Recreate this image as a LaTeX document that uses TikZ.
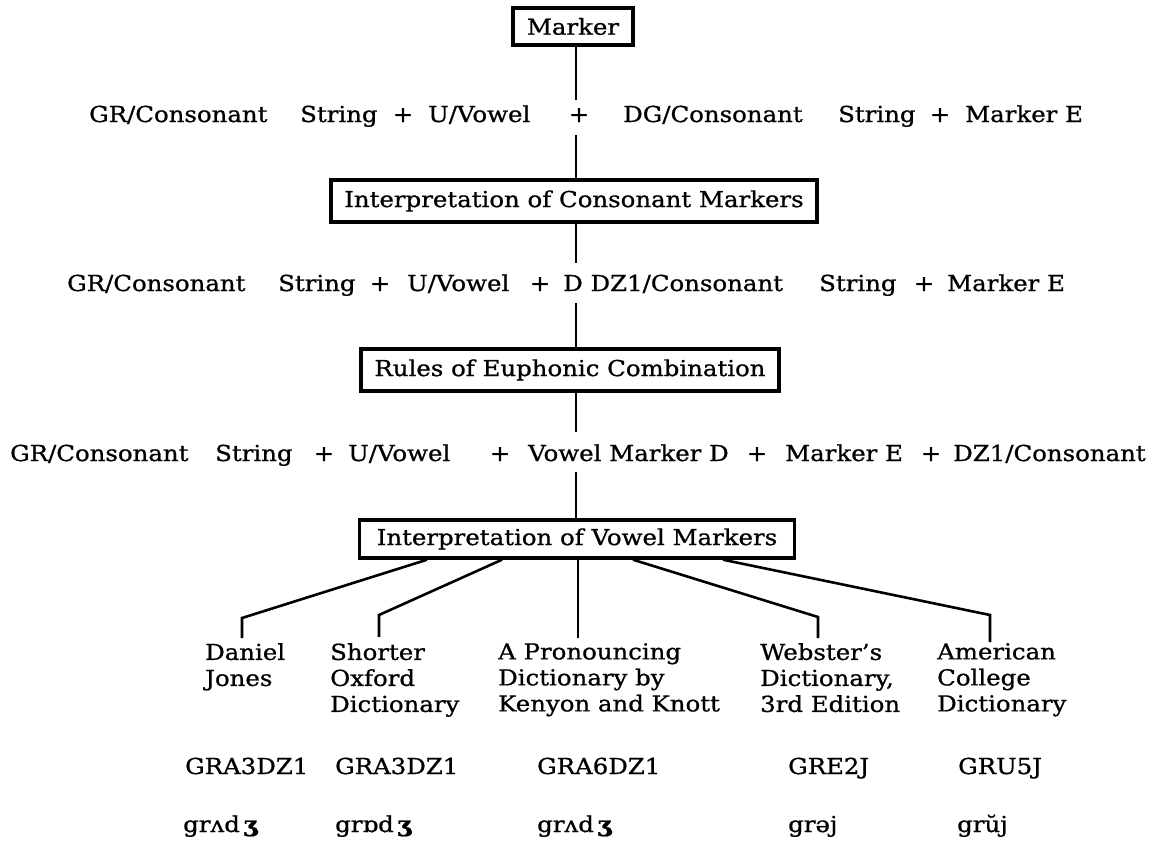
\documentclass[tikz,border=0pt]{standalone}
\usepackage{fontspec}
\setmainfont{DejaVu Serif}[FakeStretch=1.11, FakeBold=0.9]
\begin{document}
\begin{tikzpicture}[x=1pt,y=-1pt,
  every node/.style={font=\fontsize{22}{26}\selectfont, inner sep=0pt},
  word/.style={anchor=base west},
  plus/.style={anchor=base},
  stage/.style={draw, line width=3.4pt, anchor=center},
  link/.style={line width=2.6pt},
  label/.style={anchor=north west, align=left}]
\useasboundingbox (0,0) rectangle (1155,843);

% spine of the derivation
\coordinate (spine) at (576,0);

% processing stages
\node[stage, minimum width=120, minimum height=37] (b1) at (573,26.5) {Marker};
\node[stage, minimum width=486, minimum height=42] (b2) at (574,201) {Interpretation of Consonant Markers};
\node[stage, minimum width=418, minimum height=42] (b3) at (570,370) {Rules of Euphonic Combination};
\node[stage, minimum width=435, minimum height=38] (b4) at (577,539) {Interpretation of Vowel Markers};

% first string
\node[word] (r1a) at (89,122) {GR/Consonant};
\node[word] (r1b) at (300,122) {String};
\node[plus] (r1c) at (403,122) {+};
\node[word] (r1d) at (428,122) {U/Vowel};
\node[plus] (r1e) at (579,122) {+};
\node[word] (r1f) at (623,122) {DG/Consonant};
\node[word] (r1g) at (838,122) {String};
\node[plus] (r1h) at (940,122) {+};
\node[word] (r1i) at (965,122) {Marker E};

% second string
\node[word] (r2a) at (67,291) {GR/Consonant};
\node[word] (r2b) at (278,291) {String};
\node[plus] (r2c) at (380,291) {+};
\node[word] (r2d) at (407,291) {U/Vowel};
\node[plus] (r2e) at (540,291) {+};
\node[word] (r2f) at (563,291) {D DZ1/Consonant};
\node[word] (r2g) at (819,291) {String};
\node[plus] (r2h) at (924,291) {+};
\node[word] (r2i) at (947,291) {Marker E};

% third string
\node[word] (r3a) at (10,461) {GR/Consonant};
\node[word] (r3b) at (215,461) {String};
\node[plus] (r3c) at (324,461) {+};
\node[word] (r3d) at (348,461) {U/Vowel};
\node[plus] (r3e) at (500,461) {+};
\node[word] (r3f) at (528,461) {Vowel Marker D};
\node[plus] (r3g) at (757,461) {+};
\node[word] (r3h) at (785,461) {Marker E};
\node[plus] (r3i) at (931,461) {+};
\node[word] (r3j) at (953,461) {DZ1/Consonant};

% gaps of the spine around the strings
\coordinate (g1a) at (576,100);
\coordinate (g1b) at (576,135);
\coordinate (g2a) at (576,263);
\coordinate (g2b) at (576,303);
\coordinate (g3a) at (576,432);
\coordinate (g3b) at (576,472);

\draw[link] (b1.south -| spine) -- (g1a);
\draw[link] (g1b) -- (b2.north -| spine);
\draw[link] (b2.south -| spine) -- (g2a);
\draw[link] (g2b) -- (b3.north -| spine);
\draw[link] (b3.south -| spine) -- (g3a);
\draw[link] (g3b) -- (b4.north -| spine);

% dictionaries
\node[label] (d1) at (205,643) {Daniel\\Jones};
\node[label] (d2) at (330,643) {Shorter\\Oxford\\Dictionary};
\node[label] (d3) at (498,643) {A Pronouncing\\Dictionary by\\Kenyon and Knott};
\node[label] (d4) at (760,643) {Webster{\char"27}s\\Dictionary,\\3rd Edition};
\node[label] (d5) at (937,643) {American\\College\\Dictionary};

% branch points
\coordinate (s1) at (427,0);
\coordinate (s2) at (502,0);
\coordinate (s3) at (578,0);
\coordinate (s4) at (633,0);
\coordinate (s5) at (723,0);
\coordinate (k1) at (242,618);
\coordinate (k2) at (379,615);
\coordinate (k4) at (818,617);
\coordinate (k5) at (990,615);
\coordinate (e1) at (242,638);
\coordinate (e2) at (379,637);
\coordinate (e3) at (578,638);
\coordinate (e4) at (818,638);
\coordinate (e5) at (990,642);

\draw[link] (b4.south -| s1) -- (k1) -- (e1);
\draw[link] (b4.south -| s2) -- (k2) -- (e2);
\draw[link] (b4.south -| s3) -- (e3);
\draw[link] (b4.south -| s4) -- (k4) -- (e4);
\draw[link] (b4.south -| s5) -- (k5) -- (e5);

% codes
\node[word] (c1) at (185,774) {GRA3DZ1};
\node[word] (c2) at (335,774) {GRA3DZ1};
\node[word] (c3) at (537,774) {GRA6DZ1};
\node[word] (c4) at (788,774) {GRE2J};
\node[word] (c5) at (958,774) {GRU5J};

% transcriptions
\node[word] (p1) at (183,832) {grʌd\,{\bfseries ʒ}};
\node[word] (p2) at (335,832) {grɒd\,{\bfseries ʒ}};
\node[word] (p3) at (537,832) {grʌd\,{\bfseries ʒ}};
\node[word] (p4) at (788,832) {grəj};
\node[word] (p5) at (957,832) {grŭj};
\end{tikzpicture}
\end{document}
